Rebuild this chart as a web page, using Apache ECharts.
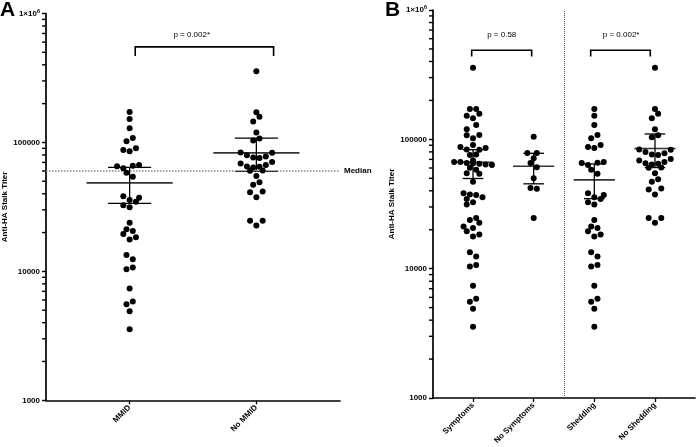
<!DOCTYPE html>
<html><head><meta charset="utf-8">
<script src="https://cdn.jsdelivr.net/npm/echarts@6/dist/echarts.min.js"></script>
<style>html,body{margin:0;padding:0;background:#fff}#c{width:696px;height:447px}</style>
</head><body><div id="c"></div>
<script>
// ---------- data ----------
const panelACategories = ['MMID', 'No MMID'];
const panelBCategories = ['Symptoms', 'No Symptoms', 'Shedding', 'No Shedding'];
const yTickLabels = {1000: '1000', 10000: '10000', 100000: '100000', 1000000: '1×10{sup|6}'};
const minorTickValues = [2000,3000,4000,5000,6000,7000,8000,9000,20000,30000,40000,50000,60000,70000,80000,90000,200000,300000,400000,500000,600000,700000,800000,900000];

// titers per subject; "slots" = beeswarm column slot of each dot (half-dot steps)
const mmidTiters = [172000,152000,129000,108000,102000,87200,85600,90300,65500,63200,65900,66700,58100,54100,38300,37200,35700,34600,32600,31400,23800,21200,20600,19500,17700,18400,13400,12400,10400,10700,7380,5850,5550,4900,3550];
const mmidSlots  = [0,0,0,1,-1,-2,0,2,-4,-2,1,3,-1,1,-2,3,0,2,-2,0,0,-1,1,-2,0,2,-1,1,-1,1,0,1,-1,0,0];
const noMmidTiters = [357000,171800,157900,145500,119600,107400,103700,83600,79700,76500,75600,77900,83000,68700,65200,64000,64700,66700,70400,60200,60700,54800,46900,49200,41000,41700,37500,24700,24700,22700];
const noMmidSlots  = [0,0,1,-1,0,1,-1,-5,-3,-1,1,3,5,-5,-3,-1,1,3,5,-2,2,0,-1,1,-2,2,0,-2,2,0];
const symptomsTiters = [357000,172000,171800,157900,152400,145500,129100,119600,108000,107400,101800,90300,87200,85600,83600,83000,76500,75600,68700,66700,66700,65500,65200,64700,64000,63200,60200,58100,54800,54100,46900,38300,37500,37200,35700,34600,32600,31400,24700,23800,22700,21200,20600,19500,18400,17700,13400,12400,10700,10400,7380,5850,5550,4900,3550];
const symptomsSlots  = [0,-1,1,2,-2,0,1,-2,2,-2,0,0,-4,4,-2,2,1,-1,0,-6,-4,-2,0,2,4,6,-1,1,-2,2,0,-3,-1,1,3,-2,0,-2,1,-1,2,-3,0,-2,2,0,-1,1,1,-1,0,1,-1,0,0];
const noSymptomsTiters = [104700,78500,78500,71400,65700,60900,50100,42000,41500,24700];
const noSymptomsSlots  = [0,-2,1,0,-1,1,0,-1,1,0];
// shedding groups are the same subjects as the MMID groups
const sheddingTiters = mmidTiters, sheddingSlots = mmidSlots;
const noSheddingTiters = noMmidTiters, noSheddingSlots = noMmidSlots;

// summary lines: [centre, lower, upper]
const mmidSummary = [48600, 33700, 64000];
const noMmidSummary = [83000, 59600, 107900];
const symptomsSummary = [66500, 49800, 83200];
const noSymptomsSummary = [61900, 45300, 78000];
const sheddingSummary = [48600, 34800, 64500];
const noSheddingSummary = [85000, 60500, 110000];

const medianReference = 60000;
const pTextsA = ['p = 0.002*'];
const pTextsB = ['p = 0.58', 'p = 0.002*'];

// ---------- chart ----------
const FONT = '"Liberation Sans", Arial, sans-serif';
const chart = echarts.init(document.getElementById('c'), null, {renderer: 'canvas'});

function xAxisFor(gi, cats) {
  const vals = cats.map((c, i) => i + 1);
  return {
    gridIndex: gi, type: 'value', min: 0.34, max: cats.length + 0.66,
    axisLine: {onZero: false, lineStyle: {color: '#000', width: 1.7}},
    axisTick: {customValues: vals, length: 4, lineStyle: {color: '#000', width: 1.3}},
    axisLabel: {customValues: vals, formatter: v => cats[Math.round(v) - 1], rotate: 45, fontSize: 8,
      fontWeight: 'bold', fontFamily: FONT, color: '#000', margin: 6},
    splitLine: {show: false}
  };
}
function yAxisFor(gi) {
  return {
    gridIndex: gi, type: 'log', logBase: 10, min: 1000, max: 1000000,
    axisLine: {show: true, lineStyle: {color: '#000', width: 1.7}},
    axisTick: {show: true, length: 4, lineStyle: {color: '#000', width: 1.4}},
    axisLabel: {
      formatter: v => yTickLabels[Math.round(v)] || '', fontSize: 8, fontWeight: 'bold',
      fontFamily: FONT, color: '#000', margin: 6,
      rich: {sup: {fontSize: 5.5, fontWeight: 'bold', fontFamily: FONT, color: '#000', padding: [0, 0, 5, 0]}}
    },
    splitLine: {show: false}, minorTick: {show: false},
    name: 'Anti-HA Stalk Titer', nameLocation: 'middle', nameGap: 37,
    nameTextStyle: {fontSize: 8, fontWeight: 'bold', fontFamily: FONT, color: '#000'}
  };
}
function dots(gi, x, titers, slots) {
  return {
    type: 'scatter', xAxisIndex: gi, yAxisIndex: gi, symbol: 'circle', symbolSize: 6, z: 5,
    itemStyle: {color: '#000', opacity: 1}, silent: true,
    data: titers.map((v, i) => ({value: [x, v], symbolOffset: [slots[i] * 3.15, 0]}))
  };
}
function summary(gi, rows) {
  return {
    type: 'custom', coordinateSystem: 'cartesian2d', xAxisIndex: gi, yAxisIndex: gi, z: 3, silent: true,
    data: rows,
    renderItem: (params, api) => {
      const x = api.value(0), c = api.value(1), lo = api.value(2), hi = api.value(3);
      const seg = (xa, xb, ya, yb, w, col) => {
        const p1 = api.coord([xa, ya]), p2 = api.coord([xb, yb]);
        return {type: 'line', shape: {x1: p1[0], y1: p1[1], x2: p2[0], y2: p2[1]}, style: {stroke: col, lineWidth: w}};
      };
      return {type: 'group', children: [
        seg(x - 0.34, x + 0.34, c, c, 1.6, '#333'),
        seg(x - 0.17, x + 0.17, lo, lo, 1.3, '#000'),
        seg(x - 0.17, x + 0.17, hi, hi, 1.3, '#000'),
        seg(x, x, lo, hi, 1.3, '#000')
      ]};
    }
  };
}
// minor log ticks (2..9 x 10^n) drawn against the y axis
function minorTicks(gi) {
  return {
    type: 'custom', coordinateSystem: 'cartesian2d', xAxisIndex: gi, yAxisIndex: gi, clip: false, silent: true, z: 10,
    data: [[1, 1000]],
    renderItem: (params, api) => {
      const x0 = api.coord([1, 1000])[0] - api.size([1, 0])[0] * 0.66;
      return {type: 'group', children: minorTickValues.map(v => {
        const y = api.coord([1, v])[1];
        return {type: 'line', shape: {x1: x0 - 4, y1: y, x2: x0, y2: y}, style: {stroke: '#000', lineWidth: 1.4}};
      })};
    }
  };
}
// bracket rows: [xLeft, xRight, barTiter, endTiter, textX, textTiter]
function brackets(gi, rows, texts) {
  return {
    type: 'custom', coordinateSystem: 'cartesian2d', xAxisIndex: gi, yAxisIndex: gi, clip: false, silent: true,
    data: rows,
    renderItem: (params, api) => {
      const a = api.coord([api.value(0), api.value(3)]);
      const b = api.coord([api.value(0), api.value(2)]);
      const c = api.coord([api.value(1), api.value(2)]);
      const d = api.coord([api.value(1), api.value(3)]);
      const t = api.coord([api.value(4), api.value(5)]);
      return {type: 'group', children: [
        {type: 'polyline', shape: {points: [a, b, c, d]}, style: {stroke: '#000', lineWidth: 1.6, fill: null}},
        {type: 'text', x: t[0], y: t[1], style: {text: texts[params.dataIndex], fontSize: 8, fontFamily: FONT,
          fill: '#000', align: 'center', verticalAlign: 'middle'}}
      ]};
    }
  };
}

const medianSeries = Object.assign(dots(0, 1, mmidTiters, mmidSlots), {
  markLine: {
    symbol: 'none', silent: true, animation: false,
    lineStyle: {type: 'dotted', color: '#888', width: 1.5},
    label: {show: true, position: 'end', formatter: 'Median', fontSize: 8, fontWeight: 'bold', fontFamily: FONT, color: '#000', distance: 4},
    data: [{yAxis: medianReference}]
  }
});
const symptomsSeries = Object.assign(dots(1, 1, symptomsTiters, symptomsSlots), {
  markLine: {
    symbol: 'none', silent: true, animation: false,
    lineStyle: {type: 'dotted', color: '#555', width: 1},
    label: {show: false},
    data: [{xAxis: 2.5}]
  }
});

chart.setOption({
  animation: false,
  grid: [
    {left: 46, top: 13.5, width: 294, height: 386.8},
    {left: 433, top: 10, width: 262, height: 390.3}
  ],
  xAxis: [xAxisFor(0, panelACategories), xAxisFor(1, panelBCategories)],
  yAxis: [yAxisFor(0), yAxisFor(1)],
  graphic: [
    {type: 'text', left: 0, top: 0, style: {text: 'A', fontSize: 21, fontWeight: 'bold', fontFamily: FONT, fill: '#000'}},
    {type: 'text', left: 385, top: 0, style: {text: 'B', fontSize: 21, fontWeight: 'bold', fontFamily: FONT, fill: '#000'}}
  ],
  series: [
    minorTicks(0), minorTicks(1),
    summary(0, [[1, ...mmidSummary], [2, ...noMmidSummary]]),
    summary(1, [[1, ...symptomsSummary], [2, ...noSymptomsSummary], [3, ...sheddingSummary], [4, ...noSheddingSummary]]),
    medianSeries,
    dots(0, 2, noMmidTiters, noMmidSlots),
    symptomsSeries,
    dots(1, 2, noSymptomsTiters, noSymptomsSlots),
    dots(1, 3, sheddingTiters, sheddingSlots),
    dots(1, 4, noSheddingTiters, noSheddingSlots),
    brackets(0, [[1.044, 2.136, 551000, 469000, 1.49, 680000]], pTextsA),
    brackets(1, [[0.978, 1.967, 488000, 437000, 1.473, 646000], [2.94, 3.923, 488000, 437000, 3.442, 646000]], pTextsB)
  ]
});
</script>
</body></html>
